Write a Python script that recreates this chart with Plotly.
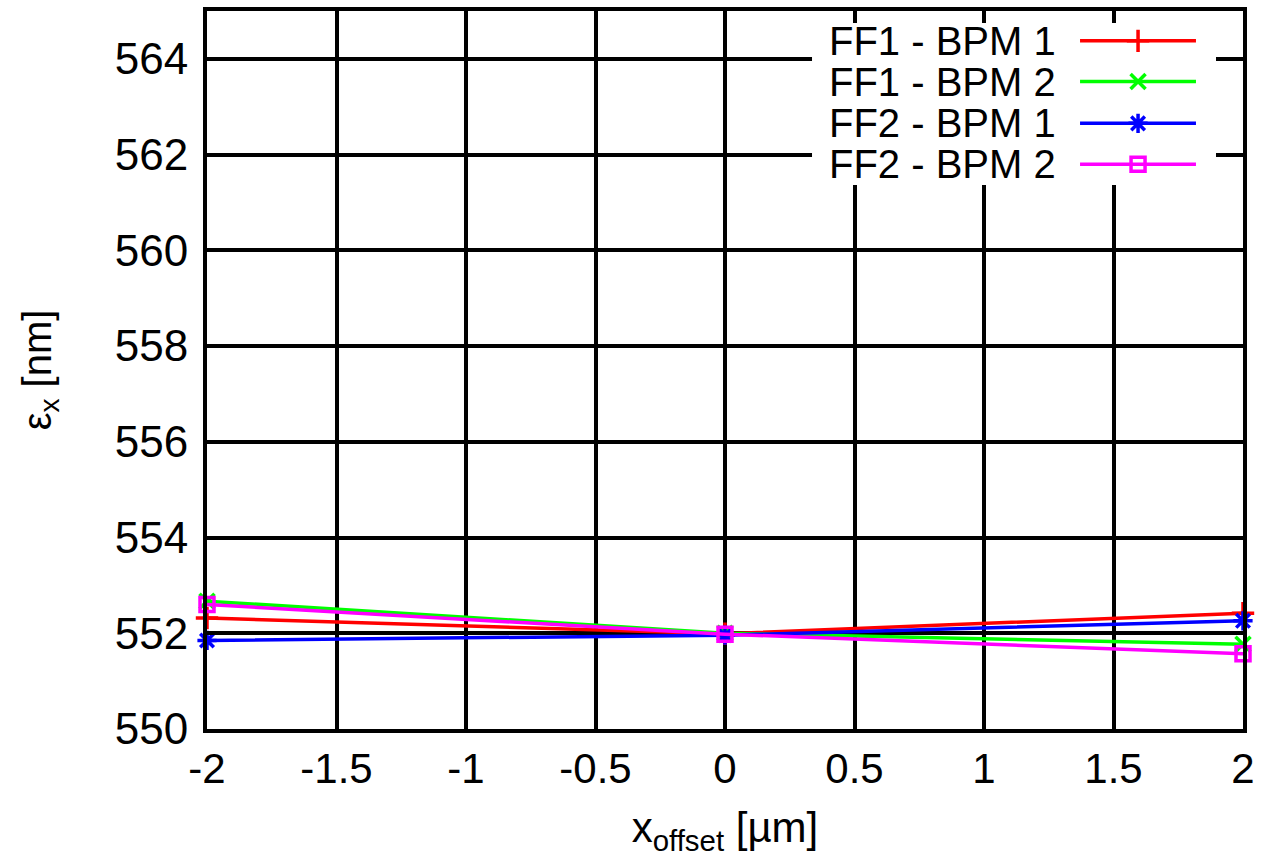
import plotly.graph_objects as go

# ---- data ----
x_offset = [-2, 0, 2]
ff1_bpm1 = [552.32, 551.99, 552.42]
ff1_bpm2 = [552.67, 552.00, 551.77]
ff2_bpm1 = [551.85, 551.96, 552.26]
ff2_bpm2 = [552.60, 551.98, 551.57]

series_names = ["FF1 - BPM 1", "FF1 - BPM 2", "FF2 - BPM 1", "FF2 - BPM 2"]
series_values = [ff1_bpm1, ff1_bpm2, ff2_bpm1, ff2_bpm2]

x_ticks = [-2, -1.5, -1, -0.5, 0, 0.5, 1, 1.5, 2]
x_ticklabels = ["-2", "-1.5", "-1", "-0.5", "0", "0.5", "1", "1.5", "2"]
y_ticks = [550, 552, 554, 556, 558, 560, 562, 564]
y_ticklabels = ["550", "552", "554", "556", "558", "560", "562", "564"]

# ---- styles ----
colors = ["#ff0000", "#00ff00", "#0000ff", "#ff00ff"]
symbols = ["cross-thin-open", "x-thin-open", "asterisk-open", "square-open"]
msizes = [16, 15, 16, 14]
FONT = "Liberation Sans, Arial, sans-serif"

fig = go.Figure()

for name, vals, c, s, ms in zip(series_names, series_values, colors, symbols, msizes):
    fig.add_trace(go.Scatter(
        x=x_offset, y=vals, mode="lines+markers", name=name,
        line=dict(color=c, width=3.5),
        marker=dict(symbol=s, size=ms, color=c, line=dict(color=c, width=3.5)),
        cliponaxis=False, showlegend=False, xaxis="x", yaxis="y",
    ))

# ---- custom gnuplot-style key (text left, sample right) on an overlay 0..1 axis ----
key_rows = [0.9584, 0.9017, 0.8435, 0.7867]
key_x0, key_xm, key_x1 = 0.8427, 0.8987, 0.9546
key_text_x = 0.8215
box_x = [0.584, 1.0, 1.0, 0.584, 0.584]
box_y = [0.7576, 0.7576, 1.0, 1.0, 0.7576]

# white key background (hides the grid under the key, like gnuplot's opaque key)
fig.add_trace(go.Scatter(
    x=box_x, y=box_y, mode="lines", fill="toself", fillcolor="white",
    line=dict(width=0, color="white"), showlegend=False,
    xaxis="x2", yaxis="y2", hoverinfo="skip",
))

for name, row, c, s, ms in zip(series_names, key_rows, colors, symbols, msizes):
    fig.add_trace(go.Scatter(
        x=[key_x0, key_x1], y=[row, row], mode="lines",
        line=dict(color=c, width=3.5), showlegend=False,
        xaxis="x2", yaxis="y2", hoverinfo="skip",
    ))
    fig.add_trace(go.Scatter(
        x=[key_xm], y=[row], mode="markers",
        marker=dict(symbol=s, size=ms, color=c, line=dict(color=c, width=3.5)),
        showlegend=False, xaxis="x2", yaxis="y2", hoverinfo="skip",
        cliponaxis=False,
    ))
    fig.add_annotation(text=name, xref="paper", yref="paper",
                       x=key_text_x, y=row, xanchor="right", yanchor="middle",
                       showarrow=False, font=dict(family=FONT, size=40, color="black"))

axis_common = dict(
    showgrid=True, gridcolor="black", gridwidth=4,
    showline=True, linecolor="black", linewidth=4, mirror="ticks",
    ticks="inside", tickwidth=4, tickcolor="black",
    zeroline=False, layer="above traces",
)

fig.update_layout(
    width=1265, height=857,
    margin=dict(l=207, r=22, t=7, b=127),
    paper_bgcolor="white", plot_bgcolor="white",
    font=dict(family=FONT, color="black"),
    showlegend=False,
    xaxis=dict(range=[-2, 2], tickvals=x_ticks, ticktext=x_ticklabels, ticklen=12,
               tickfont=dict(family=FONT, size=42, color="black"),
               title=dict(text="x<sub>offset</sub> [µm]", font=dict(family=FONT, size=42),
                          standoff=28),
               **axis_common),
    yaxis=dict(range=[550, 565], tickvals=y_ticks, ticktext=y_ticklabels, ticklen=27,
               tickfont=dict(family=FONT, size=44, color="black"),
               ticklabelstandoff=6,
               title=dict(text="ε<sub>x</sub> [nm]", font=dict(family=FONT, size=40),
                          standoff=52),
               **axis_common),
    xaxis2=dict(overlaying="x", range=[0, 1], visible=False, fixedrange=True),
    yaxis2=dict(overlaying="y", range=[0, 1], visible=False, fixedrange=True),
)

fig.write_html("out.html")
